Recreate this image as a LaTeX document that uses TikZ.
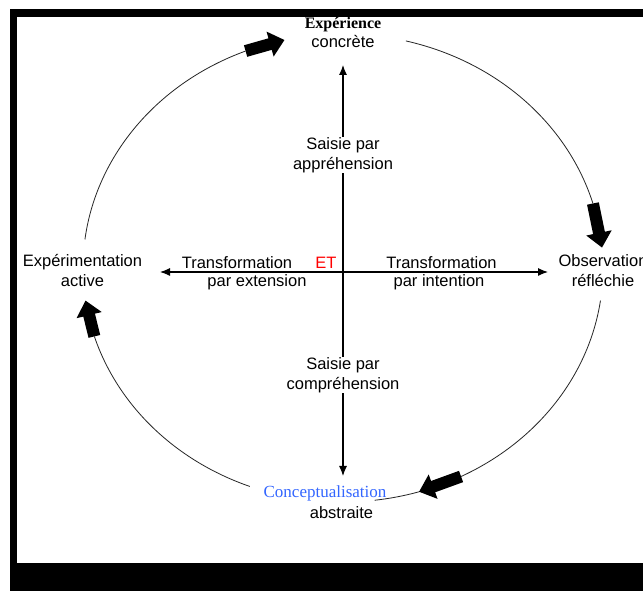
\documentclass[tikz,border=0pt]{standalone}
\usepackage{fontspec}
\setmainfont{Liberation Sans}
\newfontfamily\timesfont{Liberation Serif}
\usetikzlibrary{arrows.meta,positioning,calc}
\tikzstyle{lbl}=[align=center,inner sep=1pt,font=\fontsize{16.5}{19.5}\selectfont]
\tikzstyle{axis}=[line width=1.1pt,-{Latex[length=10pt,width=8pt]}]
\tikzstyle{loopline}=[line width=0.8pt,black!85]
\tikzstyle{bigarrow}=[line width=12pt,-{Triangle[length=15pt,width=25pt]}]
\definecolor{etred}{RGB}{255,0,0}
\definecolor{concblue}{RGB}{51,102,255}

\begin{document}
\begin{tikzpicture}[x=1pt,y=1pt]
\useasboundingbox (0,0) rectangle (643,591);
% frame
\fill[black] (10,0) rectangle (643,582);
\fill[white] (17,28) rectangle (643,574);

\coordinate (c) at (343,323);
\coordinate (o) at (343,319);
\coordinate (top) at (343,526);
\coordinate (bot) at (343,115);
\coordinate (left) at (160,319);
\coordinate (right) at (548,319);

% cycle
\foreach \a/\b/\p/\q in {76/16/16/5, -8/-83/-63/-73, 249/197/197/188, 173/112/112/103}{
  \draw[loopline] ($(c)+(\a:260pt and 234pt)$) arc[start angle=\a,end angle=\b,x radius=260pt,y radius=234pt];
  \draw[bigarrow] ($(c)+(\p:260pt and 234pt)$) -- ($(c)+(\q:260pt and 234pt)$);
}

% axes
\draw[axis] (o)--(top);
\draw[axis] (o)--(bot);
\draw[axis] (o)--(left);
\draw[axis] (o)--(right);

% poles
\node (exp) [lbl,font=\timesfont\bfseries\fontsize{16}{18}\selectfont] at (343,566) {Expérience};
\node (concr) [lbl] at (343,549) {concrète};
\node (obs) [lbl] at (603,320.5) {Observation\\réfléchie};
\node (conc) [lbl,font=\timesfont\fontsize{17}{19}\selectfont,text=concblue] at (325,98) {Conceptualisation};
\node (abstr) [lbl] at (341.5,78) {abstraite};
\node (expact) [lbl] at (82.5,320.5) {Expérimentation\\active};

% axis labels
\node (appr) [lbl,fill=white] at (343,436) {Saisie par\\appréhension};
\node (compr) [lbl,fill=white] at (343,216) {Saisie par\\compréhension};
\node (tr1) [lbl] at (237,328) {Transformation};
\node (ext) [lbl] at (257,309) {par extension};
\node (et) [lbl,text=etred] at (326,328) {ET};
\node (tr2) [lbl] at (441.5,328) {Transformation};
\node (int) [lbl] at (439,309) {par intention};
\end{tikzpicture}
\end{document}
